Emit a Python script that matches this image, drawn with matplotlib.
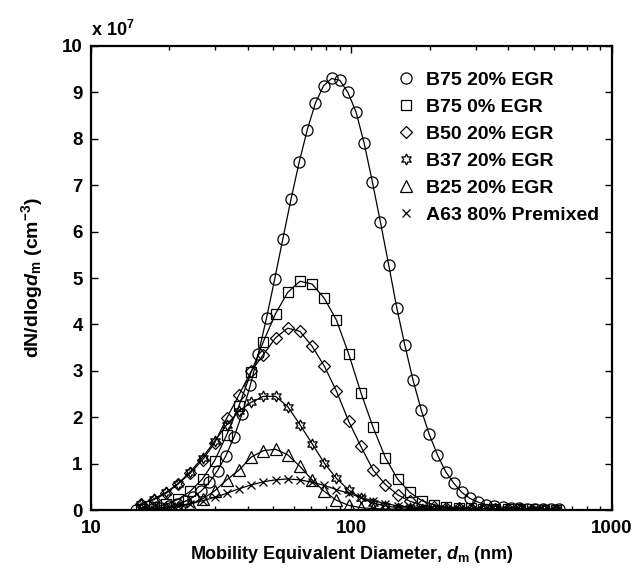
import matplotlib
matplotlib.use("Agg")
import matplotlib.pyplot as plt
from matplotlib.ticker import FixedLocator, NullFormatter

plt.rcParams["font.family"] = ["Liberation Sans", "DejaVu Sans"]
plt.rcParams["font.weight"] = "bold"
plt.rcParams["mathtext.fontset"] = "custom"
plt.rcParams["mathtext.rm"] = "Liberation Sans:bold"
plt.rcParams["mathtext.it"] = "Liberation Sans:italic:bold"
plt.rcParams["mathtext.bf"] = "Liberation Sans:bold"

# mobility diameters (nm); the B75 20% EGR scan has a finer grid
d_fine = [14.9, 16.0, 17.2, 18.5, 19.9, 21.4, 23.0, 24.7, 26.5, 28.5, 30.6, 32.9, 35.4,
          38.0, 40.9, 43.9, 47.2, 50.7, 54.5, 58.6, 63.0, 67.7, 72.7, 78.1, 83.9, 90.2,
          96.9, 104.1, 111.9, 120.3, 129.2, 138.9, 149.2, 160.3, 172.3, 185.2, 198.9,
          213.8, 229.7, 246.8, 265.2, 285.0, 306.3, 329.1, 353.7, 380.1, 408.4, 438.9,
          471.6, 506.8, 544.6, 585.2, 628.8]
d_coarse = [15.6, 17.4, 19.4, 21.6, 24.0, 26.8, 29.8, 33.2, 37.0, 41.2, 45.9, 51.1, 56.9,
            63.4, 70.6, 78.7, 87.6, 97.6, 108.7, 121.1, 134.9, 150.3, 167.4, 186.5, 207.8,
            231.5, 257.9, 287.3, 320.0, 356.5, 397.2, 442.4, 492.9, 549.1, 611.7]

# dN/dlogdm in units of 1e7 cm^-3
b75_egr20 = [0.01, 0.02, 0.03, 0.05, 0.08, 0.12, 0.19, 0.28, 0.41, 0.60, 0.85, 1.16, 1.57,
             2.07, 2.69, 3.37, 4.14, 4.97, 5.84, 6.70, 7.50, 8.20, 8.77, 9.14, 9.30, 9.26,
             9.00, 8.58, 7.90, 7.07, 6.20, 5.29, 4.36, 3.55, 2.80, 2.16, 1.63, 1.19, 0.83,
             0.58, 0.38, 0.25, 0.17, 0.11, 0.08, 0.06, 0.05, 0.04, 0.03, 0.03, 0.02, 0.02,
             0.02]
b75_egr0 = [0.03, 0.06, 0.12, 0.23, 0.40, 0.67, 1.06, 1.62, 2.25, 2.97, 3.63, 4.23, 4.69,
            4.93, 4.87, 4.56, 4.09, 3.36, 2.53, 1.78, 1.13, 0.67, 0.38, 0.20, 0.11, 0.07,
            0.05, 0.04, 0.03, 0.03, 0.02, 0.02, 0.02, 0.01, 0.01]
b50_egr20 = [0.14, 0.22, 0.36, 0.56, 0.79, 1.08, 1.44, 1.98, 2.48, 2.99, 3.35, 3.71, 3.92,
             3.85, 3.53, 3.10, 2.56, 1.91, 1.37, 0.86, 0.55, 0.33, 0.19, 0.11, 0.07, 0.05,
             0.04, 0.03, 0.03, 0.02, 0.02, 0.02, 0.01, 0.01, 0.01]
b37_egr20 = [0.14, 0.24, 0.38, 0.57, 0.82, 1.13, 1.48, 1.84, 2.13, 2.32, 2.45, 2.45, 2.23,
             1.84, 1.43, 1.01, 0.68, 0.43, 0.26, 0.15, 0.09, 0.05, 0.04, 0.03, 0.02, 0.02,
             0.02, 0.01, 0.01, 0.01, 0.01, 0.01, 0.01, 0.01, 0.01]
b25_egr20 = [0.02, 0.03, 0.04, 0.07, 0.13, 0.24, 0.41, 0.65, 0.86, 1.14, 1.28, 1.31, 1.19,
             0.94, 0.65, 0.40, 0.21, 0.10, 0.05, 0.03, 0.02, 0.02, 0.01, 0.01, 0.01, 0.01,
             0.01, 0.01, 0.01, 0.01, 0.01, 0.01, 0.01, 0.01, 0.01]
a63_pm80 = [0.02, 0.03, 0.06, 0.09, 0.14, 0.20, 0.27, 0.36, 0.46, 0.54, 0.61, 0.65, 0.67,
            0.65, 0.60, 0.53, 0.44, 0.36, 0.27, 0.20, 0.14, 0.09, 0.06, 0.04, 0.03, 0.02,
            0.02, 0.01, 0.01, 0.01, 0.01, 0.01, 0.01, 0.01, 0.01]

labels = ["B75 20% EGR", "B75 0% EGR", "B50 20% EGR", "B37 20% EGR", "B25 20% EGR",
          "A63 80% Premixed"]

series = [
    (d_fine, b75_egr20, "o", 8),
    (d_coarse, b75_egr0, "s", 7),
    (d_coarse, b50_egr20, "D", 6.5),
    (d_coarse, b37_egr20, (6, 1, 0), 8),
    (d_coarse, b25_egr20, "^", 8.5),
    (d_coarse, a63_pm80, "x", 6),
]

fig = plt.figure(figsize=(6.38, 5.75), dpi=100)
ax = fig.add_axes([0.1426, 0.113, 0.8166, 0.807])

handles = []
for (d, y, mk, ms), lab in zip(series, labels):
    ax.plot(d, y, "-", color="black", linewidth=0.9)
    h, = ax.plot(d, y, linestyle="none", marker=mk, markersize=ms, markerfacecolor="none",
                 markeredgecolor="black", markeredgewidth=0.9, label=lab)
    handles.append(h)

ax.set_xscale("log")
ax.set_xlim(10, 1000)
ax.set_ylim(0, 10)
ax.set_yticks(range(0, 11))
ax.set_xticks([10, 100, 1000])
ax.set_xticklabels(["10", "100", "1000"])
ax.xaxis.set_minor_locator(FixedLocator([m * 10 ** e for e in (1, 2) for m in range(2, 10)]))
ax.xaxis.set_minor_formatter(NullFormatter())
ax.tick_params(which="both", direction="in", top=True, right=True, labelsize=13.5)
ax.tick_params(which="major", length=5, width=1)
ax.tick_params(which="minor", length=3, width=1)
ax.tick_params(axis="x", pad=7)
ax.tick_params(axis="y", pad=6)
for sp in ax.spines.values():
    sp.set_linewidth(1.6)

ax.set_xlabel("Mobility Equivalent Diameter, $d_\\mathrm{m}$ (nm)", fontsize=13,
              fontweight="bold", labelpad=5)
ax.set_ylabel("dN/dlog$d_\\mathrm{m}$ (cm$^{-3}$)", fontsize=14, fontweight="bold",
              labelpad=12)
ax.text(0.0, 1.012, "x 10$^{7}$", transform=ax.transAxes, fontsize=13,
        fontweight="bold", ha="left", va="bottom")

ax.legend(handles=handles, loc="upper left", bbox_to_anchor=(0.572, 0.962), frameon=False,
          fontsize=14, handlelength=1.0, handletextpad=0.5, labelspacing=0.48,
          borderaxespad=0)

fig.savefig("out.png", dpi=100)
